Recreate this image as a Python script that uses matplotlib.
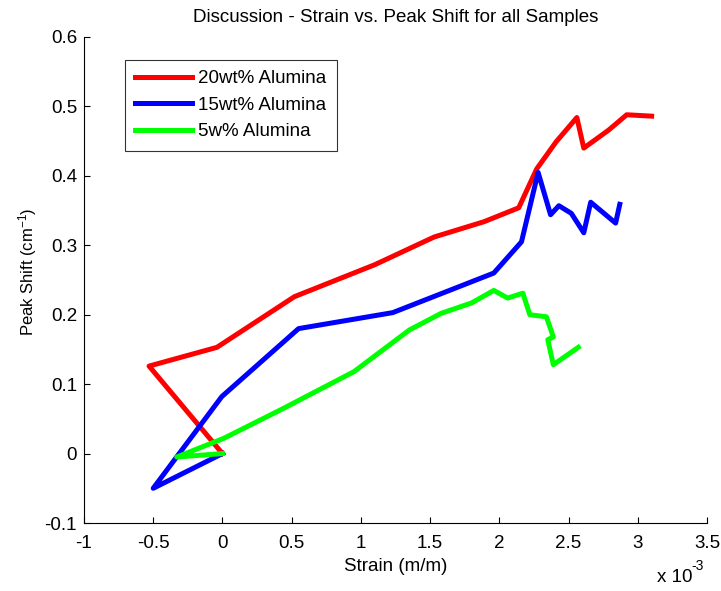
import matplotlib
matplotlib.use("Agg")
import matplotlib.pyplot as plt

plt.rcParams['font.family'] = ['Liberation Sans', 'DejaVu Sans']
plt.rcParams['mathtext.fontset'] = 'custom'
plt.rcParams['mathtext.rm'] = 'Liberation Sans'
plt.rcParams['mathtext.it'] = 'Liberation Sans'
plt.rcParams['mathtext.default'] = 'regular'

title = "Discussion - Strain vs. Peak Shift for all Samples"
xlabel = "Strain (m/m)"
ylabel = "Peak Shift (cm$^{-1}$)"

# strain values in units of 1e-3
red_x = [0.0, -0.53, -0.04, 0.52, 1.10, 1.53, 1.89, 2.14, 2.27, 2.41, 2.56, 2.61, 2.79, 2.92, 3.10]
red_y = [0.0, 0.126, 0.153, 0.226, 0.272, 0.312, 0.334, 0.354, 0.410, 0.449, 0.484, 0.440, 0.466, 0.488, 0.486]

blue_x = [0.0, -0.50, -0.005, 0.55, 1.23, 1.96, 2.16, 2.28, 2.37, 2.43, 2.52, 2.61, 2.66, 2.84, 2.87]
blue_y = [0.0, -0.050, 0.082, 0.180, 0.203, 0.260, 0.305, 0.405, 0.344, 0.357, 0.346, 0.318, 0.362, 0.332, 0.359]

green_x = [0.0, -0.33, 0.01, 0.43, 0.95, 1.35, 1.58, 1.80, 1.96, 2.06, 2.17, 2.22, 2.34, 2.39, 2.35, 2.39, 2.57]
green_y = [0.0, -0.005, 0.022, 0.064, 0.118, 0.178, 0.202, 0.217, 0.235, 0.224, 0.231, 0.200, 0.197, 0.168, 0.164, 0.128, 0.153]

labels = ["20wt% Alumina", "15wt% Alumina", "5w% Alumina"]
xticks = [-1, -0.5, 0, 0.5, 1, 1.5, 2, 2.5, 3, 3.5]
xticklabels = ["-1", "-0.5", "0", "0.5", "1", "1.5", "2", "2.5", "3", "3.5"]
yticks = [-0.1, 0, 0.1, 0.2, 0.3, 0.4, 0.5, 0.6]
yticklabels = ["-0.1", "0", "0.1", "0.2", "0.3", "0.4", "0.5", "0.6"]

FS = 13.5

fig = plt.figure(figsize=(7.21, 5.91), dpi=100)
ax = fig.add_axes([84/721, 1-523/591, (707-84)/721, (523-37)/591])

ax.plot(red_x, red_y, color=(1, 0, 0), lw=3.6, label=labels[0])
ax.plot(blue_x, blue_y, color=(0, 0, 1), lw=3.6, label=labels[1])
ax.plot(green_x, green_y, color=(0, 1, 0), lw=3.6, label=labels[2])

ax.set_xlim(-1, 3.5)
ax.set_ylim(-0.1, 0.6)
ax.set_xticks(xticks)
ax.set_xticklabels(xticklabels)
ax.set_yticks(yticks)
ax.set_yticklabels(yticklabels)
ax.tick_params(direction='in', length=4, labelsize=FS, width=0.8)
ax.tick_params(axis='x', pad=9)
ax.tick_params(axis='y', pad=5)
for s in ['top', 'right']:
    ax.spines[s].set_visible(False)
for s in ['left', 'bottom']:
    ax.spines[s].set_linewidth(0.8)

ax.set_title(title, fontsize=FS, pad=11)
ax.set_xlabel(xlabel, fontsize=FS, labelpad=4)
ax.set_ylabel(ylabel, fontsize=12, labelpad=4)
ax.yaxis.label.set_y(0.516)

fig.text(657/721, 1-578/591, "x 10", fontsize=FS, va='center', ha='left')
fig.text(691/721, 1-566/591, "-3", fontsize=10, va='center', ha='left')

leg = ax.legend(loc='upper left', bbox_to_anchor=((125-84)/623, 1-(60-37)/486),
                fontsize=FS, frameon=True, fancybox=False, edgecolor='black',
                handlelength=3.0, borderpad=0.55, labelspacing=0.5, handletextpad=0.35,
                borderaxespad=0)
leg.get_frame().set_linewidth(0.8)

fig.savefig("out.png", dpi=100)
